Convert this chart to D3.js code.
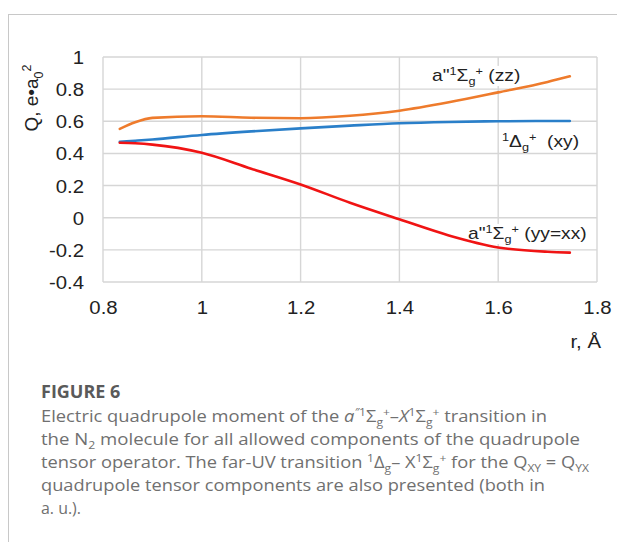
<!DOCTYPE html>
<html>
<head>
<meta charset="utf-8">
<script src="https://cdn.jsdelivr.net/npm/d3@7"></script>
<style>
  body { margin: 0; background: #fff; }
</style>
</head>
<body>
<script>
// r grid (Angstrom) shared by all three curves
var rValues  = [0.834, 0.865, 0.9, 1.0, 1.1, 1.2, 1.3, 1.4, 1.5, 1.6, 1.7, 1.745];
// a"1Sg+ (zz)
var zzValues = [0.553, 0.594, 0.621, 0.631, 0.622, 0.619, 0.634, 0.666, 0.718, 0.780, 0.845, 0.880];
// 1Dg+ (xy)
var xyValues = [0.472, 0.479, 0.487, 0.515, 0.537, 0.556, 0.573, 0.588, 0.596, 0.600, 0.602, 0.602];
// a"1Sg+ (yy=xx)
var yyValues = [0.466, 0.463, 0.455, 0.404, 0.305, 0.207, 0.093, -0.010, -0.110, -0.185, -0.212, -0.217];

var xTicks = [0.8, 1, 1.2, 1.4, 1.6, 1.8];
var yTicks = [-0.4, -0.2, 0, 0.2, 0.4, 0.6, 0.8, 1];

var W = 617, H = 542;
var plotLeft = 103, plotRight = 597, plotTop = 57, plotBottom = 282;
var stretch = 1.13;   // the picture is a bit wider than tall

var svg = d3.select("body").append("svg")
    .attr("width", W)
    .attr("height", H)
    .style("font-family", "'Liberation Sans', Arial, sans-serif");

// frame of the figure box
svg.append("line").attr("x1", 8).attr("x2", W).attr("y1", 14.5).attr("y2", 14.5)
    .style("stroke", "#c8c8c8").style("stroke-width", 1);
svg.append("line").attr("x1", 8.5).attr("x2", 8.5).attr("y1", 14).attr("y2", H)
    .style("stroke", "#c8c8c8").style("stroke-width", 1);

var x = d3.scaleLinear().domain([0.8, 1.8]).range([plotLeft, plotRight]);
var y = d3.scaleLinear().domain([-0.4, 1]).range([plotBottom, plotTop]);

function widen(sel) {
    sel.each(function () {
        var w = this.getComputedTextLength();
        d3.select(this).attr("textLength", w * stretch).attr("lengthAdjust", "spacingAndGlyphs");
    });
}

// gridlines
var grid = svg.append("g");
grid.selectAll(".gx").data(xTicks).enter().append("line")
    .attr("x1", function (d) { return x(d); })
    .attr("x2", function (d) { return x(d); })
    .attr("y1", plotTop).attr("y2", plotBottom)
    .style("stroke", "#d6d6d6").style("stroke-width", 1.4);
grid.selectAll(".gy").data(yTicks).enter().append("line")
    .attr("x1", plotLeft).attr("x2", plotRight)
    .attr("y1", function (d) { return y(d); })
    .attr("y2", function (d) { return y(d); })
    .style("stroke", "#d6d6d6").style("stroke-width", 1.4);

// axes: only labels are shown, plain hyphen for negatives
var plain = function (d) { return String(d); };

var xAxis = svg.append("g")
    .attr("transform", "translate(0," + plotBottom + ")")
    .call(d3.axisBottom(x).tickValues(xTicks).tickSize(0).tickPadding(0).tickFormat(plain));
xAxis.select(".domain").remove();
xAxis.selectAll("text")
    .attr("y", 32).attr("dy", 0)
    .style("font-size", "18px").style("fill", "#222")
    .style("font-family", "'Liberation Sans', Arial, sans-serif")
    .call(widen);

var yAxis = svg.append("g")
    .attr("transform", "translate(84,0)")
    .call(d3.axisLeft(y).tickValues(yTicks).tickSize(0).tickPadding(0).tickFormat(plain));
yAxis.select(".domain").remove();
yAxis.selectAll("text")
    .attr("x", 0).attr("dy", "0.36em")
    .style("font-size", "18px").style("fill", "#222")
    .style("font-family", "'Liberation Sans', Arial, sans-serif")
    .call(widen);

// text with sub / superscripts: parts = [text, "sub"|"sup"|null, italic]
function rich(g, px, py, parts, size, opts) {
    opts = opts || {};
    var t = g.append("text").attr("x", px).attr("y", py)
        .style("font-size", size + "px")
        .style("fill", opts.fill || "#222");
    if (opts.anchor) t.attr("text-anchor", opts.anchor);
    if (opts.transform) t.attr("transform", opts.transform);
    var cur = 0;
    parts.forEach(function (p) {
        var shift = 0, fs = size;
        if (p[1] == "sub") { shift = size * 0.24; fs = size * 0.66; }
        if (p[1] == "sup") { shift = -size * 0.36; fs = size * 0.66; }
        var ts = t.append("tspan").attr("dy", shift - cur).text(p[0]);
        if (fs != size) ts.style("font-size", fs + "px");
        if (p[2]) ts.style("font-style", "italic");
        cur = shift;
    });
    return t;
}

// axis titles
rich(svg, 38, 98, [["Q, e\u2022a"], ["0", "sub"], ["2", "sup"]], 19,
     { anchor: "middle", transform: "rotate(-90,38,98)" });
rich(svg, 601, 348, [["r, \u00c5"]], 18, { anchor: "end" }).call(widen);

// curve labels (white box under them, above the grid)
var labels = [
    { x: 432, y: 81, parts: [["a\"", null], ["1", "sup"], ["\u03a3"], ["g", "sub"], ["+", "sup"], [" (zz)"]] },
    { x: 502, y: 147, parts: [["1", "sup"], ["\u0394"], ["g", "sub"], ["+", "sup"], ["  (xy)"]] },
    { x: 468, y: 239, parts: [["a\"", null], ["1", "sup"], ["\u03a3"], ["g", "sub"], ["+", "sup"], [" (yy=xx)"]] }
];
var boxLayer = svg.append("g");
var lineLayer = svg.append("g");
var labelLayer = svg.append("g");
labels.forEach(function (l) {
    var t = rich(labelLayer, l.x, l.y, l.parts, 17).style("white-space", "pre");
    t.call(widen);
    var b = t.node().getBBox();
    boxLayer.append("rect")
        .attr("x", b.x - 1).attr("y", b.y + 1)
        .attr("width", b.width + 2).attr("height", b.height - 2)
        .style("fill", "#fff");
});

// curves
var series = [
    { values: zzValues, color: "#ee7b2c" },
    { values: xyValues, color: "#2a7fc9" },
    { values: yyValues, color: "#f01414" }
];
var line = d3.line()
    .x(function (d) { return x(d[0]); })
    .y(function (d) { return y(d[1]); })
    .curve(d3.curveMonotoneX);
lineLayer.selectAll("path").data(series).enter().append("path")
    .attr("d", function (s) { return line(d3.zip(rValues, s.values)); })
    .style("fill", "none")
    .style("stroke", function (s) { return s.color; })
    .style("stroke-width", 2.6)
    .style("stroke-linecap", "round");

// caption
var cap = svg.append("g").style("font-family", "'Open Sans', 'Noto Sans', sans-serif");
cap.append("text").attr("x", 41).attr("y", 398)
    .style("font-size", "18px").style("font-weight", "bold").style("fill", "#5a5a5a")
    .text("FIGURE 6");

var capLines = [
    [["Electric quadrupole moment of the "], ["a", null, true], ["\u2033", "sup", true], ["1", "sup"], ["\u03a3"], ["g", "sub"], ["+", "sup"],
     ["\u2013"], ["X", null, true], ["1", "sup"], ["\u03a3"], ["g", "sub"], ["+", "sup"], [" transition in"]],
    [["the N"], ["2", "sub"], [" molecule for all allowed components of the quadrupole"]],
    [["tensor operator. The far-UV transition "], ["1", "sup"], ["\u0394"], ["g", "sub"], ["\u2013 X"], ["1", "sup"], ["\u03a3"], ["g", "sub"], ["+", "sup"],
     [" for the Q"], ["XY", "sub"], [" = Q"], ["YX", "sub"]],
    [["quadrupole tensor components are also presented (both in"]],
    [["a. u.)."]]
];
var capEnds = [547, 580, 589, 545, 81];
capLines.forEach(function (parts, i) {
    rich(cap, 41, 422 + i * 23, parts, 17, { fill: "#707070" })
        .attr("textLength", capEnds[i] - 41)
        .attr("lengthAdjust", "spacingAndGlyphs");
});
</script>
</body>
</html>
